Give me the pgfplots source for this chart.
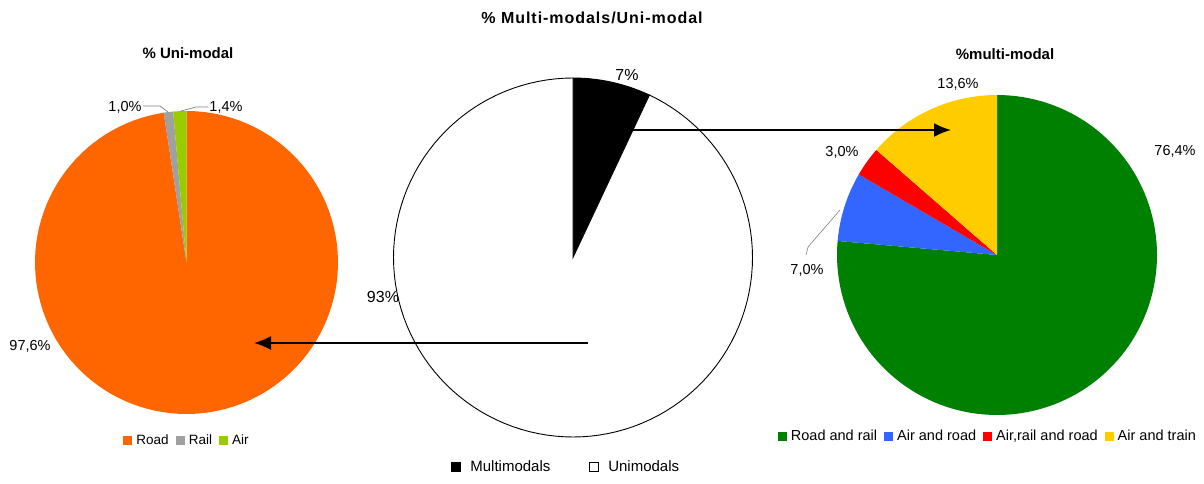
\documentclass[border=0pt]{standalone}
\usepackage{fontspec}
\setmainfont{Liberation Sans}
\usepackage{pgfplots}
\pgfplotsset{compat=1.18}
\usetikzlibrary{arrows.meta}
\definecolor{cRoad}{HTML}{FF6600}
\definecolor{cRail}{HTML}{A0A0A0}
\definecolor{cAir}{HTML}{99CC00}
\definecolor{cRR}{HTML}{008000}
\definecolor{cAR}{HTML}{3366FF}
\definecolor{cARR}{HTML}{FF0000}
\definecolor{cAT}{HTML}{FFCC00}
% #1 = cumulative percent at start, #2 = cumulative percent at end (clockwise from 12 o'clock), #3 = style
\newcommand{\pieslice}[3]{%
  \addplot[#3, domain={90-3.6*#2}:{90-3.6*#1}, samples=120, variable=\t]
    ({cos(\t)},{sin(\t)}) -- (axis cs:0,0) -- cycle;}
\pgfplotsset{
  pie/.style={scale only axis, xmin=-1, xmax=1, ymin=-1, ymax=1, hide axis, clip=false, anchor=south west,
    legend image code/.code={\path[##1] (0pt,-4.5pt) rectangle (9pt,4.5pt);},
    legend style={draw=none, fill=none, legend columns=-1, anchor=center, inner sep=0pt,
      /tikz/every odd column/.append style={column sep=3pt},
      /tikz/every even column/.append style={column sep=6pt},
      nodes={inner sep=1pt}}},
}
\begin{document}
\begin{tikzpicture}[x=1pt,y=1pt]
% Left pie: uni-modal
\begin{axis}[pie, at={(35pt,70pt)}, width=303pt, height=303pt,
  legend style={at={(0.5,-0.086)}, font=\fontsize{13.5}{15}\selectfont}]
  \pieslice{0}{97.6}{fill=cRoad, draw=none}
  \pieslice{97.6}{98.6}{fill=cRail, draw=none}
  \pieslice{98.6}{100}{fill=cAir, draw=none}
  \legend{Road, Rail, Air}
\end{axis}
% Middle pie
\begin{axis}[pie, at={(393.5pt,47pt)}, width=359pt, height=359pt,
  legend style={at={(0.48,-0.084)}, font=\fontsize{15}{17}\selectfont,
    /tikz/every odd column/.append style={column sep=8pt},
    /tikz/every even column/.append style={column sep=38pt}}]
  \pieslice{0}{7}{fill=black, draw=black, line width=0.9pt}
  \pieslice{7}{100}{fill=white, draw=black, line width=0.9pt}
  \legend{Multimodals, Unimodals}
\end{axis}
% Right pie: multi-modal
\begin{axis}[pie, at={(837pt,69pt)}, width=320pt, height=320pt,
  legend style={at={(0.47,-0.066)}, font=\fontsize{14.5}{16}\selectfont}]
  \pieslice{0}{76.4}{fill=cRR, draw=none}
  \pieslice{76.4}{83.4}{fill=cAR, draw=none}
  \pieslice{83.4}{86.4}{fill=cARR, draw=none}
  \pieslice{86.4}{100}{fill=cAT, draw=none}
  \legend{Road and rail, Air and road, {Air,rail and road}, Air and train}
\end{axis}
% Titles
\node[font=\fontsize{16}{18}\selectfont\bfseries\addfontfeatures{LetterSpace=6}] at (592,466) {\% Multi-modals/Uni-modal};
\node[font=\fontsize{15}{17}\selectfont\bfseries] at (188,431) {\% Uni-modal};
\node[font=\fontsize{15}{17}\selectfont\bfseries] at (1005,430) {\%multi-modal};
% Data labels
\begin{scope}[font=\fontsize{14.5}{16}\selectfont]
\node at (125,377) {1,0\%};
\node at (226,377) {1,4\%};
\node at (30,138) {97,6\%};
\node at (958,400) {13,6\%};
\node at (842,332) {3,0\%};
\node at (1175,333) {76,4\%};
\node at (807,214) {7,0\%};
\end{scope}
\node[font=\fontsize{16}{18}\selectfont] at (627,409) {7\%};
\node[font=\fontsize{16}{18}\selectfont] at (383,187) {93\%};
% Leader lines
\draw[gray, line width=0.7pt] (143,378) -- (160,378) -- (168,372);
\draw[gray, line width=0.7pt] (208,377) -- (196,377) -- (181,373);
\draw[gray, line width=0.6pt] (840,274) -- (808,237) -- (806,229);
% Arrows
\draw[line width=1.8pt, -{Latex[length=17pt,width=14pt]}] (632,354) -- (951,354);
\draw[line width=1.8pt, -{Latex[length=17pt,width=14pt]}] (588,141) -- (254,141);
\pgfresetboundingbox
\path[use as bounding box] (0,0) rectangle (1204,484);
\end{tikzpicture}
\end{document}
